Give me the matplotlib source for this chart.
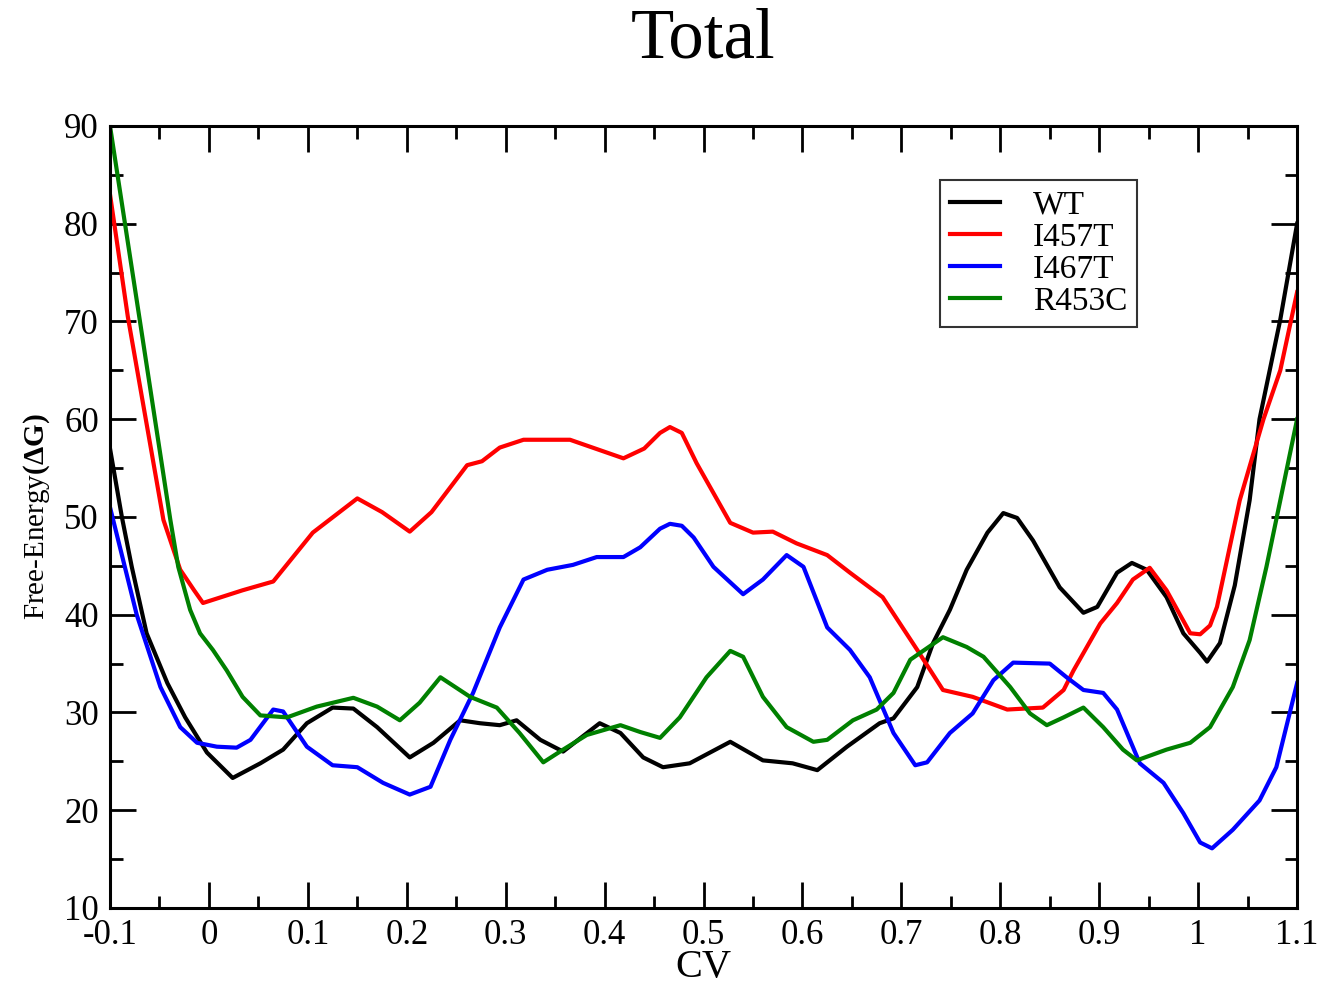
import matplotlib
matplotlib.use('Agg')
import matplotlib.pyplot as plt
from matplotlib.ticker import MultipleLocator, FormatStrFormatter

plt.rcParams['font.family'] = ['Liberation Serif', 'DejaVu Serif']
plt.rcParams['mathtext.fontset'] = 'custom'
plt.rcParams['mathtext.rm'] = 'Liberation Serif'
plt.rcParams['mathtext.bf'] = 'Liberation Serif:bold'
plt.rcParams['axes.unicode_minus'] = False

# free-energy profiles
wt_x = [-0.1, -0.088, -0.078, -0.063, -0.042, -0.024, -0.002, 0.024, 0.052, 0.075,
        0.099, 0.125, 0.146, 0.17, 0.203, 0.227, 0.254, 0.274, 0.294, 0.311,
        0.335, 0.358, 0.395, 0.416, 0.439, 0.459, 0.486, 0.527, 0.56, 0.59,
        0.615, 0.645, 0.678, 0.692, 0.716, 0.732, 0.749, 0.766, 0.787, 0.803,
        0.817, 0.833, 0.86, 0.884, 0.898, 0.918, 0.933, 0.948, 0.968, 0.985,
        1.002, 1.009, 1.022, 1.037, 1.052, 1.062, 1.083, 1.1]
wt_y = [57, 50, 44.9, 38.1, 33.0, 29.5, 25.9, 23.3, 24.8, 26.2,
        28.9, 30.5, 30.4, 28.5, 25.4, 26.9, 29.2, 28.9, 28.7, 29.2,
        27.2, 26.0, 28.9, 27.9, 25.4, 24.4, 24.8, 27.0, 25.1, 24.8,
        24.1, 26.5, 28.9, 29.4, 32.6, 37.1, 40.5, 44.6, 48.4, 50.4,
        49.9, 47.6, 42.8, 40.2, 40.8, 44.3, 45.3, 44.6, 41.8, 38.1,
        36.1, 35.2, 37.1, 43.0, 51.7, 60, 70.2, 80]

i457t_x = [-0.1, -0.082, -0.046, -0.029, -0.015, -0.006, 0.034, 0.065, 0.105, 0.15,
           0.175, 0.203, 0.225, 0.261, 0.276, 0.294, 0.318, 0.365, 0.419, 0.44,
           0.456, 0.466, 0.478, 0.493, 0.527, 0.55, 0.57, 0.594, 0.625, 0.648,
           0.681, 0.716, 0.742, 0.772, 0.807, 0.843, 0.864, 0.874, 0.901, 0.918,
           0.934, 0.951, 0.968, 0.992, 1.002, 1.012, 1.019, 1.042, 1.066, 1.083, 1.1]
i457t_y = [83, 70.5, 49.7, 44.6, 42.5, 41.2, 42.5, 43.4, 48.4, 51.9,
           50.5, 48.5, 50.5, 55.3, 55.7, 57.1, 57.9, 57.9, 56.0, 57.0,
           58.6, 59.2, 58.6, 55.5, 49.4, 48.4, 48.5, 47.3, 46.1, 44.3,
           41.8, 36.4, 32.3, 31.6, 30.3, 30.5, 32.3, 34.3, 39.1, 41.2,
           43.6, 44.8, 42.5, 38.1, 38.0, 38.9, 40.8, 51.7, 60, 65.0, 73]

i467t_x = [-0.1, -0.073, -0.049, -0.029, -0.012, 0.008, 0.028, 0.042, 0.065, 0.075,
           0.099, 0.125, 0.15, 0.176, 0.203, 0.224, 0.244, 0.267, 0.294, 0.318,
           0.342, 0.368, 0.392, 0.419, 0.436, 0.456, 0.466, 0.478, 0.49, 0.51,
           0.54, 0.56, 0.584, 0.601, 0.625, 0.648, 0.668, 0.692, 0.714, 0.726,
           0.749, 0.772, 0.793, 0.813, 0.85, 0.867, 0.884, 0.904, 0.918, 0.941,
           0.965, 0.985, 1.002, 1.014, 1.035, 1.062, 1.079, 1.1]
i467t_y = [51, 40.0, 32.6, 28.5, 26.9, 26.5, 26.4, 27.2, 30.3, 30.1,
           26.5, 24.6, 24.4, 22.8, 21.6, 22.4, 27.2, 32.0, 38.7, 43.6,
           44.6, 45.1, 45.9, 45.9, 46.9, 48.8, 49.3, 49.1, 47.9, 44.9,
           42.1, 43.6, 46.1, 44.9, 38.7, 36.4, 33.6, 27.9, 24.6, 24.9,
           27.9, 29.9, 33.3, 35.1, 35.0, 33.6, 32.3, 32.0, 30.3, 24.8,
           22.8, 19.7, 16.7, 16.1, 18.0, 21.0, 24.4, 33]

r453c_x = [-0.1, -0.07, -0.039, -0.031, -0.019, -0.009, 0.004, 0.018, 0.034, 0.052,
           0.079, 0.109, 0.146, 0.17, 0.193, 0.213, 0.234, 0.264, 0.291, 0.314,
           0.338, 0.358, 0.382, 0.416, 0.436, 0.456, 0.476, 0.503, 0.527, 0.54,
           0.56, 0.584, 0.611, 0.625, 0.651, 0.675, 0.692, 0.709, 0.742, 0.766,
           0.783, 0.81, 0.83, 0.847, 0.864, 0.884, 0.904, 0.924, 0.938, 0.968,
           0.992, 1.012, 1.035, 1.052, 1.069, 1.083, 1.1]
r453c_y = [90, 70.2, 49.7, 44.9, 40.5, 38.1, 36.4, 34.3, 31.6, 29.7,
           29.5, 30.6, 31.5, 30.6, 29.2, 31.0, 33.6, 31.6, 30.5, 27.9,
           24.9, 26.2, 27.7, 28.7, 28.0, 27.4, 29.5, 33.6, 36.3, 35.7,
           31.6, 28.5, 27.0, 27.2, 29.2, 30.3, 32.0, 35.4, 37.7, 36.7,
           35.7, 32.6, 29.9, 28.7, 29.5, 30.5, 28.5, 26.2, 25.1, 26.2,
           26.9, 28.5, 32.6, 37.4, 44.9, 51.7, 60]

fig = plt.figure(figsize=(13.19, 9.85), dpi=100)
ax = fig.add_axes([0.0834, 0.0782, 0.9, 0.7939])

lw = 3.0
ax.plot(wt_x, wt_y, color='black', lw=lw, label='WT', solid_joinstyle='round')
ax.plot(i457t_x, i457t_y, color='red', lw=lw, label='I457T', solid_joinstyle='round')
ax.plot(i467t_x, i467t_y, color='blue', lw=lw, label='I467T', solid_joinstyle='round')
ax.plot(r453c_x, r453c_y, color='green', lw=lw, label='R453C', solid_joinstyle='round')

ax.set_xlim(-0.1, 1.1)
ax.set_ylim(10, 90)
ax.xaxis.set_major_locator(MultipleLocator(0.1))
ax.xaxis.set_minor_locator(MultipleLocator(0.05))
ax.yaxis.set_major_locator(MultipleLocator(10))
ax.yaxis.set_minor_locator(MultipleLocator(5))
ax.xaxis.set_major_formatter(FormatStrFormatter('%g'))

ax.tick_params(which='both', direction='in', top=True, right=True, width=2)
ax.tick_params(which='major', length=19, labelsize=25, pad=8)
ax.tick_params(which='minor', length=9)
for s in ax.spines.values():
    s.set_linewidth(2.2)

ax.set_xlabel('CV', fontsize=29, labelpad=-2)
ax.set_ylabel(r'Free-Energy$\mathbf{(\Delta G)}$', fontsize=21, labelpad=9)

fig.text(0.533, 1 - 40 / 985, 'Total', ha='center', va='center', fontsize=51)

leg = ax.legend(loc='upper left', bbox_to_anchor=(0.699, 0.931), borderaxespad=0,
                fontsize=24, frameon=True, fancybox=False, edgecolor='black',
                handlelength=1.5, handletextpad=1.0, labelspacing=0.05,
                borderpad=0.3)
leg.get_frame().set_linewidth(1.5)

fig.savefig('out.png', dpi=100)
